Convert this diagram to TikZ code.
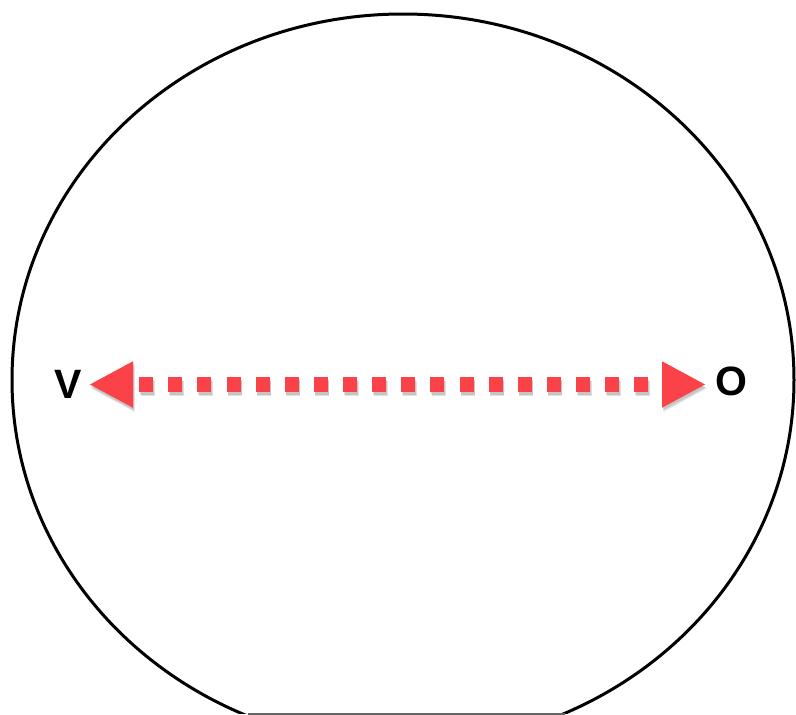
\documentclass[tikz,border=0pt]{standalone}
\usepackage{fontspec}
\setmainfont{Liberation Sans}
\usetikzlibrary{arrows.meta}
\definecolor{arrowred}{RGB}{250,66,72}
\tikzset{
  lbl/.style={font=\fontsize{41}{41}\selectfont\bfseries, inner sep=0pt},
  dotarrow/.style={line width=15pt, dash pattern=on 14pt off 15.12pt, dash phase=20.12pt,
    {Triangle[length=44pt,width=43pt]}-{Triangle[length=44pt,width=43pt]}},
  rim/.style={line width=3pt, black}
}
\begin{document}
\begin{tikzpicture}[x=1pt,y=-1pt]
\useasboundingbox (0,0) rectangle (796,715);
\begin{scope}
  \clip (-5,-5) rectangle (801,713.5);
  \draw[rim] (403,380) ellipse [x radius=391, y radius=366];
\end{scope}
\draw[line width=1.5pt, black!60] (248,713.8) -- (565,713.8);
\node[lbl] (V) at (68.5,384) {V};
\node[lbl] (O) at (731,381.5) {O};
\coordinate (vt) at (89,384.5);
\coordinate (ot) at (706,384.5);
% soft shadow
\begin{scope}[transform canvas={shift={(1.5pt,-4pt)}}]
  \draw[dotarrow, black, opacity=0.12] (vt) -- (ot);
\end{scope}
\begin{scope}[transform canvas={shift={(1pt,-2.5pt)}}]
  \draw[dotarrow, black, opacity=0.12] (vt) -- (ot);
\end{scope}
\draw[dotarrow, arrowred] (vt) -- (ot);
\end{tikzpicture}
\end{document}
